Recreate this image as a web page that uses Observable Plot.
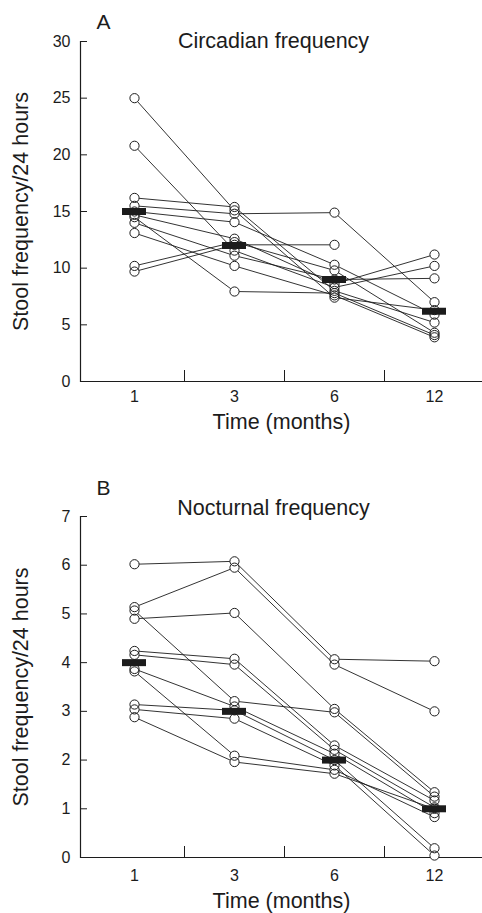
<!DOCTYPE html>
<html><head><meta charset="utf-8">
<script src="https://cdn.jsdelivr.net/npm/d3@7"></script>
<script src="https://cdn.jsdelivr.net/npm/@observablehq/plot@0.6"></script>
<style>body{margin:0;background:#fff;} #chart svg{display:block;}</style>
</head><body><div id="chart"></div>
<script>
const months = ["1", "3", "6", "12"];
// Circadian frequency, one entry per patient at each time point
const circM1 = [25, 20.8, 16.2, 15.5, 15.0, 14.7, 14.5, 14.0, 13.1, 10.2, 9.7];
const circM3 = [15.1, 11.55, 15.4, 14.8, 14.06, 12.6, 7.94, 11.1, 10.2, 12.3, 12.06];
const circM6 = [7.4, 8.3, 8.0, 14.9, 10.3, 8.6, 7.8, 9.0, 7.6, 9.8, 12.06];
const circM12 = [6.3, 10.2, 5.2, 7.0, 5.9, 11.2, 4.1, 9.1, 3.9, 4.3, null];
const circMedian = [15, 12, 9, 6.2];
// Nocturnal frequency
const noctM1 = [6.02, 5.14, 4.9, 5.07, 4.24, 4.16, 3.87, 3.82, 3.14, 3.04, 2.88];
const noctM3 = [6.08, 5.95, 5.02, 3.21, 4.08, 3.96, 3.1, 2.09, 3.02, 2.85, 1.96];
const noctM6 = [4.07, 3.96, 3.05, 2.98, 2.3, 2.21, 2.13, 1.8, 2.0, 1.89, 1.72];
const noctM12 = [4.03, 3.0, 1.34, 1.25, 1.17, 1.03, 0.91, 0.83, 0.19, 0.04, 1.0];
const noctMedian = [4, 3, 2, 1];
const circTicks = [0, 5, 10, 15, 20, 25, 30];
const noctTicks = [0, 1, 2, 3, 4, 5, 6, 7];
const yLabel = "Stool frequency/24 hours";
const xLabel = "Time (months)";

const FONT = "'Liberation Sans', Arial, Helvetica, sans-serif";
const INK = "#1c1c1c";

function panel({series, median, ticks, letter, title, height, marginTop, marginBottom, tickPad, titleDy, letterDy, xLabelDy}) {
  const rows = [];
  series[0].forEach((_, i) => {
    months.forEach((mo, j) => {
      const v = series[j][i];
      if (v != null) rows.push({id: i, month: mo, value: v});
    });
  });
  const medRows = months.map((mo, j) => ({month: mo, value: median[j]}));
  return Plot.plot({
    width: 482,
    height,
    marginTop,
    marginBottom,
    marginLeft: 80,
    marginRight: 0,
    style: {fontFamily: FONT, background: "white", color: INK, overflow: "visible"},
    x: {type: "band", domain: months, padding: 0, insetLeft: 3, insetRight: -2},
    y: {domain: [ticks[0], ticks[ticks.length - 1]]},
    marks: [
      Plot.frame({anchor: "left", stroke: INK, strokeWidth: 1.2}),
      Plot.ruleY([0], {stroke: INK, strokeWidth: 1.2}),
      Plot.axisY(ticks, {tickSize: -7, tickPadding: 17, fontSize: 16, label: null, stroke: INK, fill: INK}),
      Plot.axisX(months, {tickSize: 0, tickPadding: tickPad, fontSize: 16, label: null, fill: INK}),
      Plot.axisX(months.slice(0, -1), {tickSize: -11, dx: 50, tickFormat: () => "", label: null, stroke: INK}),
      Plot.line(rows, {x: "month", y: "value", z: "id", stroke: INK, strokeWidth: 0.9}),
      Plot.dot(rows, {x: "month", y: "value", r: 4.6, fill: "white", stroke: null}),
      Plot.dot(rows, {x: "month", y: "value", r: 4.6, fill: "none", stroke: INK, strokeWidth: 1}),
      Plot.tickY(medRows, {x: "month", y: "value", stroke: INK, strokeWidth: 7, insetLeft: 38, insetRight: 38}),
      Plot.text([title], {frameAnchor: "top", text: d => d, textAnchor: "middle", dx: -8, dy: titleDy, fontSize: 21.5, lineAnchor: "middle", fill: INK}),
      Plot.text([letter], {frameAnchor: "top-left", text: d => d, textAnchor: "middle", dx: 23, dy: letterDy, fontSize: 21, lineAnchor: "middle", fill: INK}),
      Plot.text([yLabel], {frameAnchor: "left", text: d => d, textAnchor: "middle", rotate: -90, dx: -59.5, fontSize: 21.5, lineAnchor: "middle", fill: INK}),
      Plot.text([xLabel], {frameAnchor: "bottom", text: d => d, textAnchor: "middle", dy: xLabelDy, fontSize: 21.5, lineAnchor: "middle", fill: INK})
    ]
  });
}

const chart = document.getElementById("chart");
chart.append(panel({
  series: [circM1, circM3, circM6, circM12], median: circMedian, ticks: circTicks,
  letter: "A", title: "Circadian frequency", height: 476, marginTop: 41, marginBottom: 95,
  tickPad: 9, titleDy: 0, letterDy: -19, xLabelDy: 41
}));
chart.append(panel({
  series: [noctM1, noctM3, noctM6, noctM12], median: noctMedian, ticks: noctTicks,
  letter: "B", title: "Nocturnal frequency", height: 437, marginTop: 40, marginBottom: 56,
  tickPad: 12, titleDy: -8.5, letterDy: -28, xLabelDy: 44
}));
</script>
</body></html>
